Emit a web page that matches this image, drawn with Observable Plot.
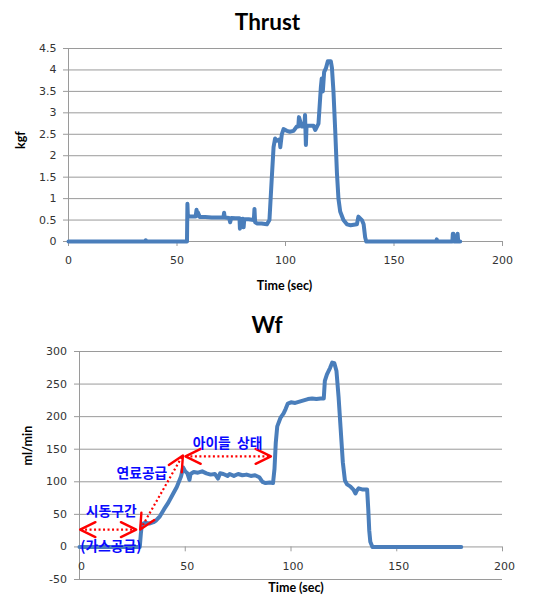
<!DOCTYPE html>
<html><head><meta charset="utf-8">
<script src="https://cdn.jsdelivr.net/npm/d3@7"></script>
<script src="https://cdn.jsdelivr.net/npm/@observablehq/plot@0.6"></script>
<style>
body{margin:0;background:#fff;}
#wrap{position:relative;width:537px;height:595px;overflow:hidden;background:#fff;}
#wrap svg{position:absolute;left:0;}
</style></head><body><div id="wrap"></div>
<script>
// ---- Thrust series [time (sec), kgf] ----
const thrustT = [0,35.3,35.6,35.9,54.6,54.8,55.0,55.3,56,58.6,59,59.3,59.6,60.5,63,66,69,71.4,71.7,72,74,74.5,75,77,78.8,79,79.3,80.4,80.7,81,83,85.4,85.7,86,87,89,91.4,92.6,93.7,94.5,95.2,96,97.3,97.6,98.3,99.1,100.6,102,103.7,105.2,105.9,106.2,107.5,108.7,109,109.4,109.7,110.6,112.9,113.7,115.2,116.3,116.7,117.2,117.8,118.7,119.5,120.9,121.4,122.1,122.9,123.7,124.4,125.2,126.7,128.3,130,132.9,133.6,135.2,136,136.7,137.2,169.5,169.7,169.9,176.9,177.1,177.4,177.6,179.1,179.3,179.6,180.5];
const thrustV = [0,0,0.03,0,0,0.88,0.6,0.6,0.58,0.58,0.74,0.6,0.68,0.57,0.57,0.56,0.56,0.56,0.67,0.56,0.55,0.45,0.55,0.54,0.54,0.3,0.52,0.53,0.33,0.52,0.52,0.5,0.76,0.45,0.42,0.42,0.4,0.5,1.5,2.2,2.4,2.35,2.38,2.2,2.5,2.62,2.58,2.56,2.58,2.68,2.68,2.9,2.68,2.68,2.95,2.25,2.7,2.7,2.7,2.6,2.75,3.6,3.8,3.5,3.95,4.05,4.2,4.2,4.05,3.5,2.6,1.6,1.0,0.7,0.5,0.4,0.38,0.4,0.58,0.5,0.4,0.1,0,0,0.05,0,0,0.18,0.18,0,0,0.18,0,0];
// ---- Wf series [time (sec), ml/min] ----
const wfT = [0,28.5,29,29.5,31,33,35,36,38,40,42,44,46,48,49,50,51,52,52.5,54,56,58,60,62,64,65.5,66.5,68,70,71,73,75,77,79,81,83,85,86.5,88,90,91.5,92.2,92.8,93.5,95,96.5,97.5,98.5,100,102,104,106,108,110,112,114,115.5,116,117,118.5,119.5,120.5,121.5,122.5,123.5,124.5,125.5,126.5,128,129.5,130.5,131,132,134,136,136.5,137,137.5,138.5,180.5];
const wfV = [0,0,20,35,37,36,38,40,47,58,68,80,92,108,122,116,113,103,112,115,114,116,113,111,112,105,113,112,109,112,109,112,110,111,109,110,107,100,98,99,98,120,160,185,198,205,212,220,222,221,223,225,227,228,227,228,228,255,265,275,283,282,270,230,180,130,102,96,93,88,82,86,90,88,88,60,25,8,0,0];

// ---- axes ----
const xTicks = [0,50,100,150,200];
const xTickLabels = ["0","50","100","150","200"];
const thrustTicks = [0,0.5,1,1.5,2,2.5,3,3.5,4,4.5];
const thrustTickLabels = ["0","0.5","1","1.5","2","2.5","3","3.5","4","4.5"];
const wfTicks = [-50,0,50,100,150,200,250,300];
const wfTickLabels = ["-50","0","50","100","150","200","250","300"];

// ---- annotations (Wf chart) ----
const annoTexts = ["시동구간","(가스공급)","연료공급","아이들\u00a0\u00a0상태"];
const annoTextT = [15,14.8,29.5,70];
const annoTextV = [54,0,112,159];
const dottedX1 = [0.5,28.9,50.3];
const dottedY1 = [26.6,27.5,139];
const dottedX2 = [26.6,48.7,90.3];
const dottedY2 = [26.6,140,139];
const headT = [0.3,26.8,28.7,48.9,50.1,90.5];
const headV = [26.6,26.6,26.6,140.5,139,139];
const headDir = [270,90,210,30,270,90];

const thrust = thrustT.map((t,i)=>({t, v: thrustV[i]}));
const wf = wfT.map((t,i)=>({t, v: wfV[i]}));
const annoT = annoTexts.map((s,i)=>({s, t: annoTextT[i], v: annoTextV[i]}));
const dotted = dottedX1.map((x,i)=>({x1:x, y1:dottedY1[i], x2:dottedX2[i], y2:dottedY2[i]}));
const heads = headT.map((t,i)=>({t, v: headV[i], r: headDir[i]}));

const GRID = "#9a9a9a";
const LINE = "#4a7ebb";
const TICKFONT = "DejaVu Sans";
const chevron = {
  draw(ctx, l) {
    const a = 26 * Math.PI/180;
    ctx.moveTo(-l*Math.sin(a), l*Math.cos(a));
    ctx.lineTo(0, 0);
    ctx.lineTo(l*Math.sin(a), l*Math.cos(a));
  }
};

const wrap = document.getElementById("wrap");

// ---------- Thrust chart ----------
const p1 = Plot.plot({
  width: 537, height: 300,
  marginLeft: 68, marginRight: 35, marginTop: 48, marginBottom: 59,
  style: {fontFamily: TICKFONT, fontSize: "11px", background: "transparent", color: "#333"},
  x: {domain: [0,200]},
  y: {domain: [0,4.5]},
  marks: [
    Plot.ruleY(thrustTicks, {stroke: GRID, strokeWidth: 1}),
    Plot.ruleX([0], {stroke: GRID}),
    Plot.axisY(thrustTicks, {tickSize: 5, tickPadding: 7, stroke: GRID, fill: "#333", label: null, tickFormat: (d,i)=>thrustTickLabels[i]}),
    Plot.axisX(xTicks, {tickSize: 5, tickPadding: 10, stroke: GRID, fill: "#333", label: null, tickFormat: (d,i)=>xTickLabels[i]}),
    Plot.line(thrust, {x: "t", y: "v", stroke: LINE, strokeWidth: 4, strokeLinejoin: "round", strokeLinecap: "round"}),
    Plot.text(["Thrust"], {text: d=>d, frameAnchor: "top", dx: -18, dy: -34, fontSize: 22.5, fontWeight: "bold", fontFamily: "Lato", fill: "#000"}),
    Plot.text(["Time (sec)"], {text: d=>d, frameAnchor: "bottom", dx: -1, dy: 48, fontSize: 12.5, fontWeight: "bold", fontFamily: "Lato", fill: "#000"}),
    Plot.text(["kgf"], {text: d=>d, frameAnchor: "left", dx: -48, dy: 4, rotate: -90, fontSize: 12.5, fontWeight: "bold", fontFamily: "Lato", fill: "#000"})
  ]
});
p1.style.top = "0px";
wrap.appendChild(p1);

// ---------- Wf chart ----------
const p2 = Plot.plot({
  width: 537, height: 295,
  marginLeft: 79, marginRight: 35, marginTop: 51, marginBottom: 16,
  style: {fontFamily: TICKFONT, fontSize: "11px", background: "transparent", color: "#333"},
  x: {domain: [0,200]},
  y: {domain: [-50,300]},
  marks: [
    Plot.ruleY(wfTicks, {stroke: GRID, strokeWidth: 1}),
    Plot.ruleX([0], {stroke: GRID}),
    Plot.axisY(wfTicks, {tickSize: 5, tickPadding: 7.5, stroke: GRID, fill: "#333", label: null, tickFormat: (d,i)=>wfTickLabels[i]}),
    Plot.axisX([], {tickSize: 0, label: null}),
    Plot.ruleX(xTicks, {x: d=>d, y1: 0, y2: -7.5, stroke: GRID}),
    Plot.text(xTicks, {x: d=>d, y: 0, text: (d,i)=>xTickLabels[i], dy: 20, dx: 2, fill: "#333", fontFamily: TICKFONT, fontSize: 11}),
    Plot.line(wf, {x: "t", y: "v", stroke: LINE, strokeWidth: 4, strokeLinejoin: "round", strokeLinecap: "round"}),
    Plot.link(dotted, {x1: "x1", y1: "y1", x2: "x2", y2: "y2", stroke: "#ff0000", strokeWidth: 2.2, strokeDasharray: "2,2.5"}),
    Plot.vector(heads, {x: "t", y: "v", rotate: "r", length: 17, anchor: "start", shape: chevron, stroke: "#ff0000", strokeWidth: 2.4}),
    Plot.text(annoT, {x: "t", y: "v", text: "s", fill: "#0a0aff", fontFamily: "Noto Sans CJK KR", fontWeight: "bold", fontSize: 13.8}),
    Plot.text(["Wf"], {text: d=>d, frameAnchor: "top", dx: -24, dy: -34, fontSize: 22.5, fontWeight: "bold", fontFamily: "Lato", fill: "#000"}),
    Plot.text(["Time (sec)"], {text: d=>d, frameAnchor: "bottom", dx: 5, dy: 12, fontSize: 12.5, fontWeight: "bold", fontFamily: "Lato", fill: "#000"}),
    Plot.text(["ml/min"], {text: d=>d, frameAnchor: "left", dx: -52, rotate: -90, fontSize: 12.5, fontWeight: "bold", fontFamily: "Lato", fill: "#000"})
  ]
});
p2.style.top = "300px";
wrap.appendChild(p2);
</script>
</body></html>
